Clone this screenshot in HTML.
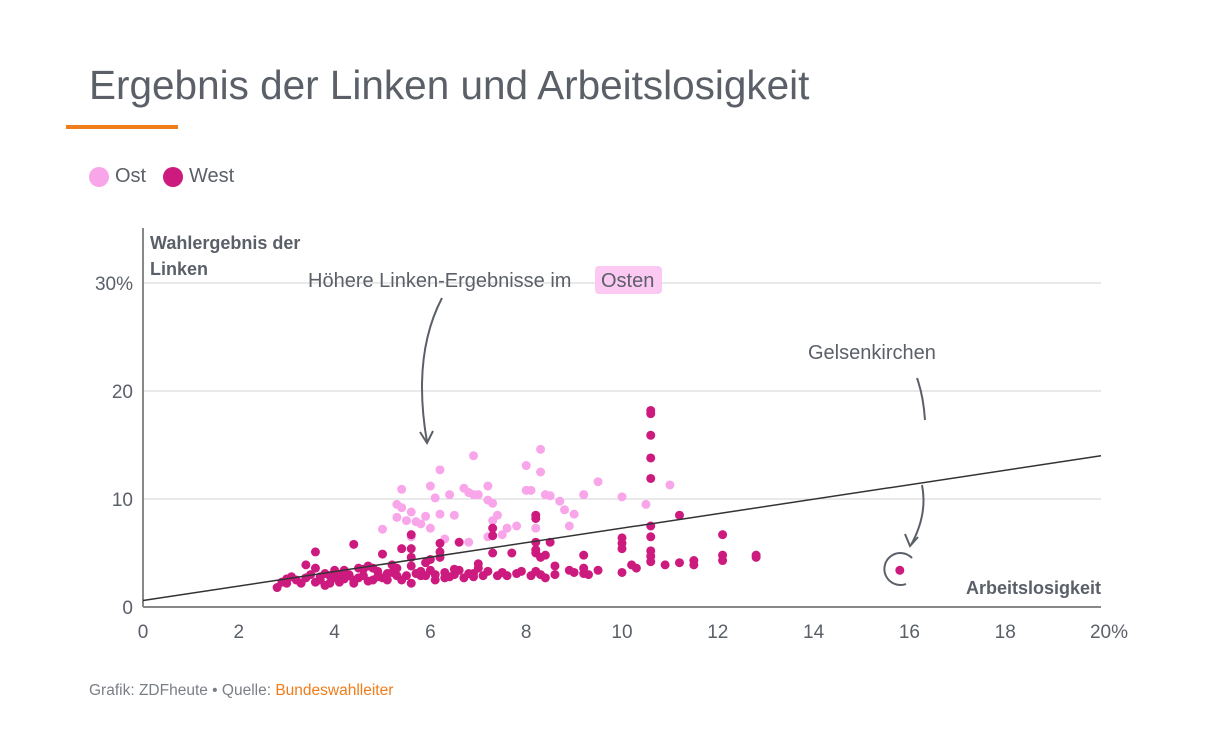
<!DOCTYPE html>
<html><head><meta charset="utf-8">
<style>
body{margin:0;background:#fff;font-family:"Liberation Sans",sans-serif;}
svg text{font-family:"Liberation Sans",sans-serif;}
</style></head>
<body>
<svg width="1228" height="750" viewBox="0 0 1228 750">
<text x="89" y="99" font-size="40.5" fill="#5b6068">Ergebnis der Linken und Arbeitslosigkeit</text>
<rect x="66" y="125" width="112" height="4" fill="#f07c1a"/>
<g>
<circle cx="99" cy="177" r="10" fill="#f9a5ea"/>
<text x="115" y="182" font-size="20" fill="#5b6068">Ost</text>
<circle cx="173" cy="177" r="10" fill="#cd1a7e"/>
<text x="189" y="182" font-size="20" fill="#5b6068">West</text>
</g>
<g id="grid"></g>
<g id="axes"></g>
<g id="marks"></g>
<text x="150" y="249" font-size="18" font-weight="bold" fill="#5b6068"><tspan x="150">Wahlergebnis der</tspan><tspan x="150" dy="26">Linken</tspan></text>
<text x="1101" y="594" font-size="18" font-weight="bold" fill="#5b6068" text-anchor="end">Arbeitslosigkeit</text>
<g>
<rect x="595" y="266" width="67" height="28" rx="4" fill="#fcc9f3"/>
<text x="308" y="287" font-size="20" fill="#5b6068">Höhere Linken-Ergebnisse im <tspan x="601">Osten</tspan></text>
<path d="M442,298 C420,340 418,390 427,442" fill="none" stroke="#5b6068" stroke-width="2"/>
<path d="M420,432 L427,443 L433,431" fill="none" stroke="#5b6068" stroke-width="2"/>
</g>
<g>
<text x="808" y="359" font-size="20" fill="#5b6068">Gelsenkirchen</text>
<path d="M917,378 C922,392 924,405 925,420" fill="none" stroke="#5b6068" stroke-width="2"/>
<path d="M922,485 C926,505 922,525 911,545" fill="none" stroke="#5b6068" stroke-width="2"/>
<path d="M905,534 L910,546 L918,537" fill="none" stroke="#5b6068" stroke-width="2"/>
<path d="M912,558 A16,16 0 1 0 906,584" fill="none" stroke="#5b6068" stroke-width="2"/>
</g>
<text x="89" y="695" font-size="15.5" fill="#7a7f86">Grafik: ZDFheute • Quelle: <tspan fill="#f07c1a">Bundeswahlleiter</tspan></text>
</svg>
<script>
const xTicks=[0,2,4,6,8,10,12,14,16,18,20];
const yTicks=[0,10,20,30];
const trend=[[0,0.6],[20,14.0]];
const ostPoints=[[5.4,10.9],[5.4,9.2],[5.3,8.3],[5.5,8.0],[5.6,8.8],[5.7,7.9],[5.8,7.7],[5.9,8.4],[6.0,11.2],[6.1,10.1],[6.2,12.7],[6.0,7.3],[6.4,10.4],[6.5,8.5],[6.7,11.0],[6.8,10.6],[6.9,10.4],[7.0,10.4],[6.9,14.0],[7.2,11.2],[7.2,9.9],[7.3,9.6],[7.4,8.5],[7.3,8.0],[7.6,7.3],[7.8,7.5],[8.0,13.1],[8.0,10.8],[8.1,10.8],[8.3,14.6],[8.3,12.5],[8.4,10.4],[8.5,10.3],[8.7,9.8],[8.8,9.0],[8.9,7.5],[9.2,10.4],[9.5,11.6],[10.0,10.2],[10.5,9.5],[11.0,11.3],[5.3,9.5],[6.2,8.6],[7.2,6.5],[5.6,6.5],[6.8,6.0],[8.2,7.3],[9.0,8.6],[5.0,7.2],[6.3,6.3],[7.5,6.7]];
const westPoints=[[10.6,18.2],[10.6,17.9],[10.6,15.9],[10.6,13.8],[10.6,11.9],[10.6,7.5],[10.6,6.5],[10.6,5.2],[10.6,4.7],[10.6,4.2],[10.3,3.6],[10.9,3.9],[11.2,8.5],[11.2,4.1],[11.5,4.3],[11.5,3.9],[12.1,6.7],[12.1,4.8],[12.1,4.3],[12.8,4.8],[12.8,4.6],[10.0,6.4],[10.0,5.9],[10.0,5.4],[10.0,3.2],[10.2,3.9],[9.2,4.8],[9.2,3.6],[9.2,3.1],[9.0,3.2],[8.9,3.4],[8.2,8.5],[8.2,8.2],[8.2,6.0],[8.2,5.3],[8.2,5.0],[8.3,4.6],[8.2,3.3],[8.3,3.0],[8.4,2.7],[8.5,6.0],[8.4,4.8],[8.6,3.8],[8.6,3.0],[9.5,3.4],[7.3,7.3],[7.3,6.6],[7.3,5.0],[7.5,3.2],[7.4,2.9],[7.2,3.3],[7.0,4.0],[6.9,3.1],[6.6,6.0],[6.6,3.4],[6.5,3.0],[6.4,2.8],[6.2,5.9],[6.2,5.1],[6.2,4.6],[6.1,3.0],[6.1,2.5],[6.0,3.4],[6.0,4.4],[5.9,2.9],[5.8,3.3],[5.9,4.1],[7.8,3.1],[7.7,5.0],[7.1,2.9],[7.0,3.6],[6.8,3.1],[6.7,2.7],[5.6,6.7],[5.6,5.4],[5.6,4.6],[5.6,3.8],[5.5,2.9],[5.6,2.2],[5.4,5.4],[5.3,3.6],[5.2,3.9],[5.1,3.1],[5.0,4.9],[5.0,2.7],[4.9,3.3],[4.8,2.5],[4.7,3.8],[4.6,2.9],[4.5,3.6],[4.4,5.8],[4.4,2.5],[4.3,3.0],[4.2,3.4],[4.1,2.3],[4.0,3.4],[4.0,2.7],[3.9,2.2],[3.8,3.1],[3.7,2.5],[3.6,5.1],[3.6,3.6],[3.6,2.3],[3.5,3.0],[3.4,2.7],[3.4,3.9],[3.3,2.2],[3.2,2.5],[3.1,2.8],[3.0,2.2],[2.9,2.3],[2.8,1.8],[3.0,2.6],[3.9,2.9],[4.2,2.6],[4.4,2.2],[4.5,2.7],[4.6,3.5],[4.7,2.4],[4.9,2.8],[5.1,2.5],[5.3,2.9],[5.4,2.5],[5.2,3.2],[4.8,3.6],[4.3,2.9],[3.7,2.8],[3.8,2.0],[4.1,3.0],[6.3,3.2],[6.5,3.5],[6.9,2.8],[7.6,2.9],[6.3,2.7],[5.8,2.9],[5.7,3.1],[7.9,3.3],[8.1,2.9],[9.3,3.0],[15.8,3.4]];
const X0=143,X1=1101,Y0=607,Y30=283;
const xs=v=>X0+(X1-X0)*v/20;
const ys=v=>Y0-(Y0-Y30)*v/30;
const NS="http://www.w3.org/2000/svg";
function mk(tag,attrs,parent){const e=document.createElementNS(NS,tag);for(const k in attrs)e.setAttribute(k,attrs[k]);parent.appendChild(e);return e;}
const grid=document.getElementById('grid'),axes=document.getElementById('axes'),marks=document.getElementById('marks');
yTicks.forEach((t,i)=>{
 if(t>0){const l=mk('line',{x1:X0,x2:X1,y1:ys(t),y2:ys(t),stroke:'#d3d3d3','stroke-width':1},grid);
 
 }
 const tx=mk('text',{x:133,y:ys(t)+7,'font-size':19,fill:'#5b6068','text-anchor':'end'},axes);
 tx.textContent=t===30?'30%':String(t);
 
 
});
xTicks.forEach(t=>{
 const tx=mk('text',{x:xs(t)+(t===20?8:0),y:638,'font-size':19,fill:'#5b6068','text-anchor':'middle'},axes);
 tx.textContent=t===20?'20%':String(t);
 
 
});
const xa=mk('line',{x1:X0,x2:X1,y1:Y0,y2:Y0,stroke:'#888','stroke-width':2},axes);


const ya=mk('line',{x1:X0,x2:X0,y1:228,y2:Y0,stroke:'#888','stroke-width':2},axes);


ostPoints.forEach(p=>{const c=mk('circle',{cx:xs(p[0]),cy:ys(p[1]),r:4.5,fill:'#f9a5ea'},marks);
 
 });
westPoints.forEach(p=>{const c=mk('circle',{cx:xs(p[0]),cy:ys(p[1]),r:4.5,fill:'#cd1a7e'},marks);
 
 });
const tl=mk('line',{x1:xs(trend[0][0]),y1:ys(trend[0][1]),x2:xs(trend[1][0]),y2:ys(trend[1][1]),stroke:'#333','stroke-width':1.5},marks);


</script>
</body></html>
